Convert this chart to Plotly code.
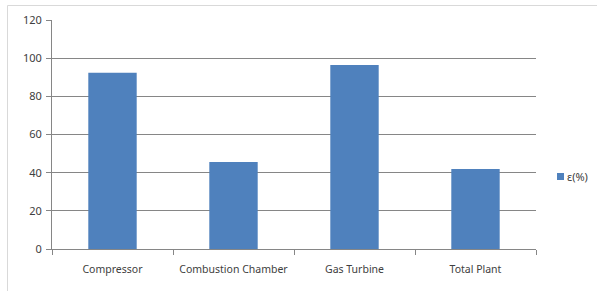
import plotly.graph_objects as go

categories = ["Compressor", "Combustion Chamber", "Gas Turbine", "Total Plant"]
values = [92.4, 45.6, 96.4, 41.9]
series_name = "ε(%)"
y_ticks = [0, 20, 40, 60, 80, 100, 120]
bar_color = "#4F81BD"

fig = go.Figure()
fig.add_trace(go.Bar(
    x=categories, y=values, name=series_name,
    marker=dict(color=bar_color, line=dict(width=0)),
    width=0.4, showlegend=False,
))

W, H = 597, 291
L, T = 52, 20
pw, ph = 484, 229
R = W - L - pw
B = H - T - ph

def px_x(x):
    return (x - L) / pw

def px_y(y):
    return (T + ph - y) / ph

font_family = "Noto Sans, Open Sans, sans-serif"

fig.update_layout(
    width=W, height=H,
    margin=dict(l=L, r=R, t=T, b=B, pad=0),
    paper_bgcolor="white", plot_bgcolor="white",
    font=dict(family=font_family, size=10, color="#404040"),
    showlegend=False,
    xaxis=dict(
        type="category", range=[-0.5, 3.5], automargin=False, tickangle=0,
        showline=True, linecolor="#868686", linewidth=1,
        ticks="outside", tickson="boundaries", ticklen=5, tickcolor="#868686",
        ticklabelstandoff=10,
        showgrid=False, tickfont=dict(size=10.5, color="#404040"),
    ),
    yaxis=dict(
        range=[0, 120], tickvals=y_ticks, automargin=False,
        showline=True, linecolor="#868686", linewidth=1,
        ticks="outside", ticklen=5, tickcolor="#868686",
        ticklabelstandoff=2,
        showgrid=True, gridcolor="#868686", gridwidth=1,
        zeroline=False, tickfont=dict(size=11, color="#404040"),
    ),
    shapes=[
        dict(type="rect", xref="paper", yref="paper",
             x0=px_x(7.5), x1=1.3, y0=-0.5, y1=px_y(5.5),
             line=dict(color="#D9D9D9", width=1), fillcolor="rgba(0,0,0,0)", layer="below"),
        dict(type="rect", xref="paper", yref="paper",
             x0=px_x(557), x1=px_x(564), y0=px_y(180), y1=px_y(173),
             line=dict(width=0), fillcolor=bar_color),
    ],
    annotations=[
        dict(text=series_name, xref="paper", yref="paper", x=px_x(565), y=px_y(176.5),
             xanchor="left", yanchor="middle", showarrow=False,
             font=dict(size=11, color="#404040")),
    ],
)

fig.write_html("out.html", config={"displayModeBar": False},
               post_script="document.body.style.margin='0';document.body.style.overflow='hidden';")
